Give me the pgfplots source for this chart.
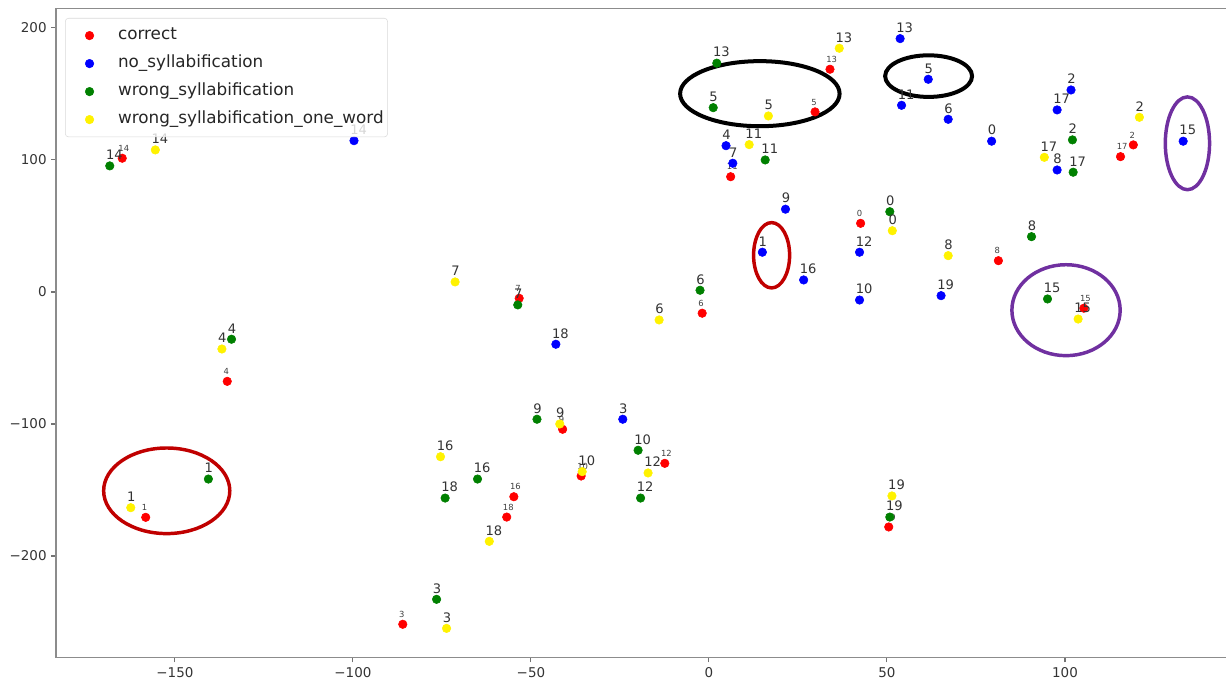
\documentclass[border=0pt]{standalone}
\usepackage{fontspec}
\setmainfont{DejaVu Sans}
\usepackage{pgfplots}
\usepackage{pgfplotstable}
\pgfplotsset{compat=1.18}
\definecolor{mplgreen}{RGB}{0,128,0}
\definecolor{ringred}{RGB}{192,0,0}
\definecolor{ringpurple}{RGB}{112,48,160}

\pgfplotstableread{
x y label
42.6 52.0 0
-158.2 -170.7 1
119.2 111.4 2
-86.0 -251.7 3
-135.3 -67.7 4
29.8 136.4 5
-1.9 -16.1 6
-53.3 -4.8 7
81.3 23.7 8
-41.1 -104.0 9
-35.9 -139.4 10
6.1 87.3 11
-12.4 -129.8 12
34.0 168.7 13
-164.8 101.3 14
105.3 -12.3 15
-54.8 -155.1 16
115.6 102.5 17
-56.8 -170.5 18
50.5 -178.0 19
}\correct

\pgfplotstableread{
x y label
79.4 114.2 0
15.0 30.1 1
101.7 153.0 2
-24.2 -96.4 3
4.8 110.8 4
61.6 161.1 5
67.2 130.8 6
6.7 97.5 7
97.8 92.4 8
21.5 62.7 9
42.3 -6.1 10
54.1 141.4 11
42.3 30.1 12
53.7 191.9 13
-99.7 114.6 14
133.2 114.2 15
26.6 9.1 16
97.8 137.9 17
-43.0 -39.6 18
65.2 -2.8 19
}\nosyll

\pgfplotstableread{
x y label
50.8 60.8 0
-140.6 -141.7 1
102.1 115.2 2
-76.5 -232.8 3
-134.1 -35.8 4
1.2 139.6 5
-2.5 1.3 6
-53.7 -9.8 7
90.6 41.9 8
-48.3 -96.4 9
-19.9 -119.9 10
15.8 100.0 11
-19.2 -156.1 12
2.2 173.3 13
-168.3 95.5 14
95.1 -5.3 15
-65.0 -141.7 16
102.3 90.7 17
-74.1 -156.1 18
50.8 -170.5 19
}\wrongsyll

\pgfplotstableread{
x y label
51.5 46.4 0
-162.4 -163.4 1
120.9 132.3 2
-73.7 -254.8 3
-136.8 -43.2 4
16.7 133.3 5
-14.0 -21.2 6
-71.3 7.6 7
67.2 27.5 8
-41.9 -100.0 9
-35.6 -136.1 10
11.3 111.6 11
-17.1 -137.1 12
36.6 184.6 13
-155.5 107.6 14
103.7 -20.5 15
-75.4 -124.8 16
94.2 102.0 17
-61.7 -188.9 18
51.4 -154.5 19
}\wrongone

\pgfplotsset{
  lab/.style={nodes near coords, point meta=explicit symbolic,
    every node near coord/.append style={anchor=base west, inner sep=0pt,
      xshift=-3pt, yshift=4.65pt, text=black!80,
      font=\fontsize{9.8}{10}\selectfont}},
  smalllab/.style={nodes near coords, point meta=explicit symbolic,
    every node near coord/.append style={anchor=base west, inner sep=0pt,
      xshift=-3pt, yshift=5.1pt, text=black!75,
      font=\fontsize{6.3}{7}\selectfont}},
  dot/.style={only marks, mark=*, mark size=3.2pt, mark options={draw=#1, fill=#1}},
}

\begin{document}
\begin{tikzpicture}
\useasboundingbox (0,0) rectangle (919.5pt,510.75pt);
\begin{axis}[
  at={(42pt,17.5pt)}, anchor=south west,
  scale only axis, width=949.5pt, height=486.75pt,
  xmin=-183.4, xmax=172.2, ymin=-277, ymax=214.6,
  xtick={-150,-100,-50,0,50,100},
  xticklabels={−150,−100,−50,0,50,100},
  ytick={-200,-100,0,100,200},
  yticklabels={−200,−100,0,100,200},
  tick pos=left, tick align=outside, major tick length=3.5pt,
  every tick/.style={black!55, line width=0.8pt},
  axis line style={black!45, line width=1pt},
  ticklabel style={font=\fontsize{10.1}{12}\selectfont, text=black!80},
  legend cell align=left,
  legend image code/.code={\path (-17pt,0pt) (3.2pt,0pt); \draw[#1, fill opacity=1, draw opacity=1] plot coordinates {(0pt,0pt)};},
  legend style={at={(0,1)}, anchor=north west, xshift=6.75pt, yshift=-7pt,
    draw=black!15, fill=white, fill opacity=0.8, text opacity=1,
    rounded corners=2.5pt, inner xsep=1pt, inner ysep=2.5pt, row sep=0pt,
    font=\fontsize{12.6}{15}\selectfont, text=black!85,
    nodes={text height=9.5pt, text depth=3pt, inner ysep=4.25pt},
    /tikz/every odd column/.append style={column sep=16pt}},
]
\addplot[dot=red, smalllab] table[x=x, y=y, meta=label] {\correct};
\addlegendentry{correct}
\addplot[dot=blue, lab] table[x=x, y=y, meta=label] {\nosyll};
\addlegendentry{no\_syllabification}
\addplot[dot=mplgreen, lab] table[x=x, y=y, meta=label] {\wrongsyll};
\addlegendentry{wrong\_syllabification}
\addplot[dot=yellow, lab] table[x=x, y=y, meta=label] {\wrongone};
\addlegendentry{wrong\_syllabification\_one\_word}

\draw[black, line width=3pt] (axis cs:14.3,150.2) ellipse [x radius=59.8pt, y radius=24.4pt];
\draw[black, line width=3pt] (axis cs:61.7,163.5) ellipse [x radius=32.6pt, y radius=15.6pt];
\draw[ringred, line width=2.6pt] (axis cs:17.6,27.8) ellipse [x radius=13.5pt, y radius=24.5pt];
\draw[ringred, line width=2.6pt] (axis cs:-152.3,-150.6) ellipse [x radius=47.3pt, y radius=32.1pt];
\draw[ringpurple, line width=2.6pt] (axis cs:134.4,112.6) ellipse [x radius=16.6pt, y radius=34.8pt];
\draw[ringpurple, line width=2.6pt] (axis cs:100.3,-13.8) ellipse [x radius=40.6pt, y radius=34.1pt];
\end{axis}
\end{tikzpicture}
\end{document}
